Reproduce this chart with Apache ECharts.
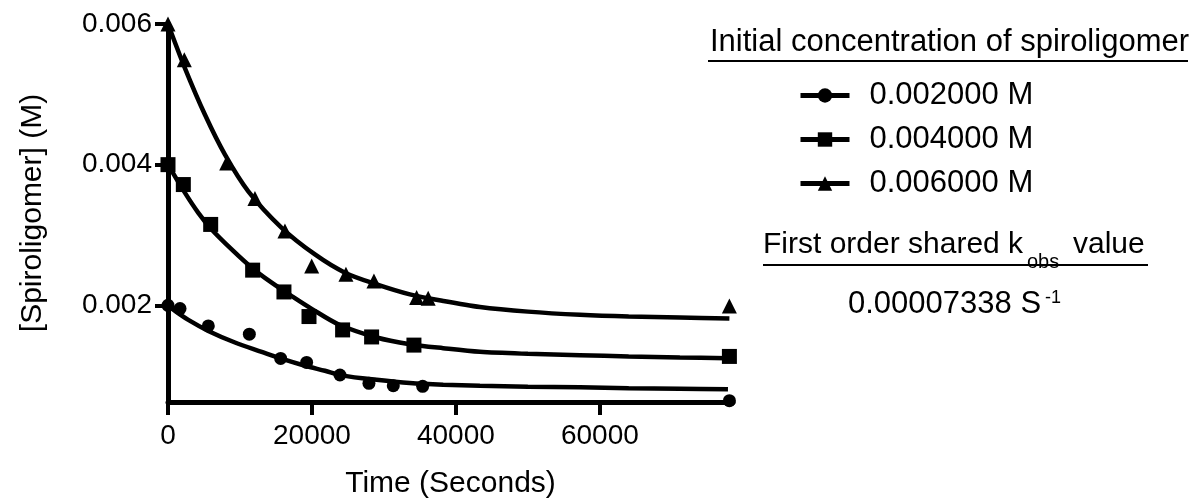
<!DOCTYPE html>
<html>
<head>
<meta charset="utf-8">
<script src="https://cdn.jsdelivr.net/npm/echarts@6/dist/echarts.min.js"></script>
<style>
  html, body { margin: 0; padding: 0; background: #fff; }
  #chart { width: 1191px; height: 504px; }
</style>
</head>
<body>
<div id="chart"></div>
<script>
// ---- Data ----
const seriesNames = ['0.002000 M', '0.004000 M', '0.006000 M'];

// Measured points (time in seconds, concentration in M)
const t002 = [0, 1670, 5600, 11300, 15650, 19260, 23890, 27920, 31300, 35380, 78000];
const c002 = [0.00200, 0.001954, 0.001707, 0.00159, 0.001245, 0.001188, 0.001009, 0.000891, 0.000857, 0.000848, 0.000644];

const t004 = [0, 2130, 5930, 11760, 16110, 19590, 24260, 28290, 34170, 78000];
const c004 = [0.00400, 0.003717, 0.00315, 0.00250, 0.00219, 0.00184, 0.00165, 0.00155, 0.001434, 0.001273];

const t006 = [0, 2270, 8150, 12080, 16250, 19960, 24720, 28610, 34540, 36150, 78000];
const c006 = [0.00600, 0.00549, 0.004025, 0.003518, 0.003055, 0.002558, 0.00244, 0.002346, 0.00211, 0.00210, 0.00199];

// Fitted curves
const fitT002 = [0, 972, 2820, 5598, 9306, 13015, 15654, 19029, 21807, 24350, 28990, 33600, 38240, 43340, 50000, 57230, 64000, 71120, 77800];
const fitC002 = [0.00200, 0.00192, 0.001792, 0.001636, 0.001471, 0.001338, 0.001244, 0.00114, 0.001069, 0.001000, 0.000940, 0.000894, 0.00087, 0.000855, 0.000843, 0.000833, 0.00082, 0.000812, 0.000805];

const fitT004 = [0, 2361, 4209, 6070, 8848, 11626, 14404, 17182, 19960, 23655, 28990, 33600, 38240, 43340, 50000, 57230, 64000, 71120, 77800];
const fitC004 = [0.00400, 0.003598, 0.003315, 0.003078, 0.002794, 0.002535, 0.002322, 0.002132, 0.00195, 0.001731, 0.001542, 0.001447, 0.00139, 0.001338, 0.00131, 0.001291, 0.001272, 0.001258, 0.001248];

const fitT006 = [0, 2361, 5139, 7917, 11154, 15793, 20418, 24585, 28990, 33600, 38240, 43340, 50000, 57230, 64000, 71120, 78000];
const fitC006 = [0.00600, 0.00537, 0.004709, 0.004142, 0.003621, 0.003102, 0.002723, 0.002464, 0.002298, 0.002156, 0.002061, 0.001975, 0.00191, 0.001865, 0.00184, 0.001826, 0.001812];

const xTickValues = [0, 20000, 40000, 60000];
const xTickLabels = ['0', '20000', '40000', '60000'];
const yTickValues = [0.002, 0.004, 0.006];
const yTickLabels = ['0.002', '0.004', '0.006'];

// ---- Build chart ----
const FONT = '"Liberation Sans", Arial, Helvetica, sans-serif';
const zip = (a, b) => a.map((v, i) => [v, b[i]]);

const chart = echarts.init(document.getElementById('chart'), null, { renderer: 'canvas' });

const axisCommon = {
  axisLine: { show: true, onZero: false, lineStyle: { color: '#000', width: 5 } },
  axisTick: { show: true, length: 13, lineStyle: { color: '#000', width: 4 } },
  splitLine: { show: false },
};

const symbols = ['circle', 'rect', 'triangle'];
const symbolSizes = [13, 15, 15];
const pts = [zip(t002, c002), zip(t004, c004), zip(t006, c006)];
const fits = [zip(fitT002, fitC002), zip(fitT004, fitC004), zip(fitT006, fitC006)];

const series = [];
for (let i = 0; i < 3; i++) {
  series.push({
    name: seriesNames[i],
    type: 'line',
    data: fits[i],
    smooth: 0.3,
    symbol: symbols[i],
    showSymbol: false,
    lineStyle: { color: '#000', width: 4.5 },
    itemStyle: { color: '#000' },
    z: 2,
    silent: true,
  });
  series.push({
    name: seriesNames[i] + ' data',
    type: 'scatter',
    data: pts[i],
    symbol: symbols[i],
    symbolSize: symbolSizes[i],
    itemStyle: { color: '#000', opacity: 1 },
    z: 3,
    silent: true,
  });
}

const option = {
  backgroundColor: '#fff',
  animation: false,
  grid: { left: 168, right: 458, top: 24, bottom: 101, containLabel: false },
  xAxis: Object.assign({}, axisCommon, {
    type: 'value',
    min: 0,
    max: 78500,
    name: 'Time (Seconds)',
    nameLocation: 'middle',
    nameGap: 67,
    nameTextStyle: { color: '#000', fontSize: 30, fontFamily: FONT },
    axisTick: Object.assign({}, axisCommon.axisTick, { customValues: xTickValues }),
    axisLabel: {
      customValues: xTickValues,
      color: '#000', fontSize: 28, fontFamily: FONT, margin: 20,
      formatter: v => { const k = xTickValues.indexOf(v); return k >= 0 ? xTickLabels[k] : ''; }
    },
  }),
  yAxis: Object.assign({}, axisCommon, {
    type: 'value',
    min: 0.000625,
    max: 0.006,
    name: '[Spiroligomer] (M)',
    nameLocation: 'middle',
    nameGap: 120,
    nameTextStyle: { color: '#000', fontSize: 30, fontFamily: FONT },
    axisTick: Object.assign({}, axisCommon.axisTick, { customValues: yTickValues }),
    axisLabel: {
      customValues: yTickValues,
      color: '#000', fontSize: 28, fontFamily: FONT, margin: 16,
      formatter: v => {
        let k = -1;
        yTickValues.forEach((tv, j) => { if (Math.abs(tv - v) < 1e-9) k = j; });
        return k >= 0 ? yTickLabels[k] : '';
      }
    },
  }),
  legend: {
    data: seriesNames,
    orient: 'vertical',
    left: 798,
    top: 80,
    padding: 0,
    itemWidth: 49,
    itemHeight: 18,
    itemGap: 13,
    selectedMode: false,
    lineStyle: { color: '#000', width: 5 },
    itemStyle: { color: '#000', opacity: 1 },
    textStyle: { color: '#000', fontSize: 31, fontFamily: FONT, lineHeight: 31, padding: [0, 0, 0, 15] },
  },
  graphic: [
    { type: 'text', left: 710, top: 27, style: { text: 'Initial concentration of spiroligomer', fill: '#000', font: '31px ' + FONT } },
    { type: 'rect', shape: { x: 708, y: 60, width: 480, height: 2 }, style: { fill: '#000' } },
    { type: 'text', left: 763, top: 230, style: { text: 'First order shared k', fill: '#000', font: '30px ' + FONT } },
    { type: 'text', left: 1027, top: 252, style: { text: 'obs', fill: '#000', font: '20px ' + FONT } },
    { type: 'text', left: 1073, top: 230, style: { text: 'value', fill: '#000', font: '30px ' + FONT } },
    { type: 'rect', shape: { x: 763, y: 264, width: 385, height: 2 }, style: { fill: '#000' } },
    { type: 'text', left: 848, top: 289, style: { text: '0.00007338 S', fill: '#000', font: '31px ' + FONT } },
    { type: 'text', left: 1045, top: 289, style: { text: '-1', fill: '#000', font: '18px ' + FONT } },
  ],
  series: series,
};

chart.setOption(option);
</script>
</body>
</html>
